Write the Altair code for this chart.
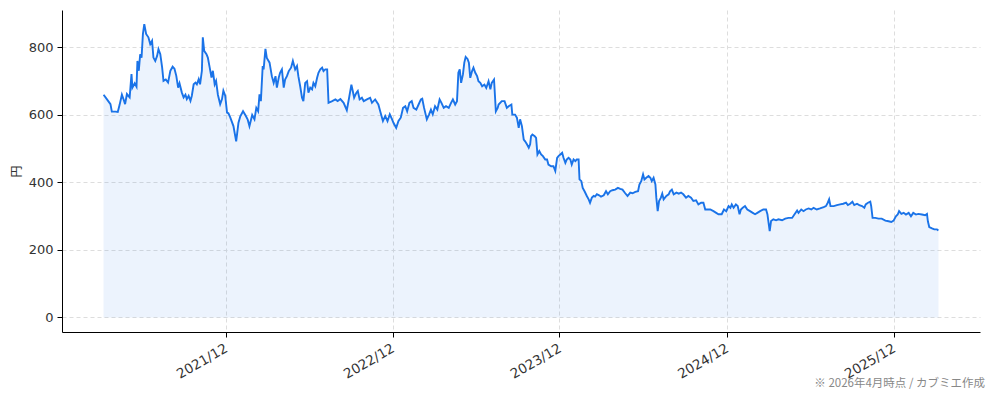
import altair as alt
import pandas as pd

# days since 2021-03-09 and closing price (円)
days = [0,7,15,18,26,31,35,40,44,47,51,57,61,63,68,72,74,77,80,83,86,89,93,98,102,106,109,113,117,120,124,128,131,136,141,146,151,155,159,163,166,171,175,179,182,186,190,193,197,201,204,208,211,215,217,220,225,228,232,236,239,243,246,250,255,259,262,266,270,273,277,
        284,290,295,299,305,310,315,319,325,330,334,338,341,344,348,350,354,357,363,368,372,376,379,383,386,390,394,397,401,405,410,414,419,423,426,430,434,437,441,445,448,452,456,459,463,467,470,474,478,481,485,489,492,500,507,512,518,525,532,537,542,545,548,553,556,560,565,
        569,576,583,587,594,601,605,611,616,621,626,631,634,640,645,650,655,660,664,669,674,678,684,689,694,697,701,707,712,716,720,725,730,735,739,744,749,755,760,764,769,773,776,779,782,786,789,792,796,799,802,806,809,813,817,820,824,828,833,837,842,846,849,854,858,862,
        864,871,877,882,886,892,894,900,904,908,911,915,919,922,926,930,933,935,938,943,946,949,953,957,961,966,970,973,979,984,988,992,995,999,1003,1006,1010,1013,1017,1021,1024,1028,1032,1035,1039,1041,1045,1048,1052,1057,1061,1064,1068,1072,1075,1079,1084,1088,1094,1099,1103,1108,1113,1119,1125,1130,1135,1141,1146,1152,1157,1163,1169,1172,1176,1180,
        1183,1187,1192,1196,1199,1203,1207,1209,1212,1215,1219,1222,1225,1231,1236,1239,1243,1247,1253,1258,1263,1268,1274,1279,1285,1290,1296,1301,1307,1312,1316,1320,1327,1334,1340,1345,1352,1357,1362,1367,1371,1374,1378,1383,1387,1391,1394,1398,1403,1408,1414,1420,1425,1430,1436,1443,1449,1452,1457,1460,1465,1471,1476,1484,1491,
        1498,1506,1511,1517,1520,1526,1531,1536,1542,1548,1553,1560,1567,1575,1580,1584,1587,1590,1597,1604,1611,1618,1624,1628,1633,1638,1642,1648,1653,1659,1664,1667,1672,1677,1679,1682,1688,1695,1702,1710,1717,1723,1728,1733,1737,1740,1745,1750,1755,1761,1766,1771,1777,1782,1790,1797,1801,1803,1806,1812,1817,1823,1826]

prices = [660,647,632,610,610,609,630,660,645,632,662,652,721,681,694,684,760,731,780,770,840,869,840,830,810,820,770,760,775,795,780,741,701,705,696,731,743,737,716,681,694,667,652,660,647,657,642,657,691,696,691,706,691,731,830,790,780,770,741,711,731,691,701,660,632,647,672,657,607,605,593,
          567,522,577,596,611,600,587,567,600,587,621,611,661,641,745,735,796,769,755,715,695,715,681,710,725,735,681,705,715,730,740,760,735,745,715,685,651,641,695,700,666,681,676,695,685,710,725,735,740,730,735,735,636,641,646,641,647,636,614,651,690,671,651,666,671,646,651,
          641,646,651,636,646,631,611,582,597,582,602,587,577,562,582,592,621,626,611,636,641,621,616,631,646,648,621,587,602,616,602,626,616,646,636,621,626,621,636,646,631,641,725,735,695,720,755,772,766,755,710,730,740,725,715,700,695,685,690,680,700,676,695,705,611,621,
          631,641,641,621,626,631,601,601,592,562,587,567,527,522,513,503,513,537,542,537,532,483,493,483,478,468,468,453,448,448,434,473,478,483,488,473,458,468,473,468,453,468,463,468,468,409,404,384,374,360,350,340,355,360,358,365,362,358,362,374,365,374,377,379,384,381,379,368,360,370,368,372,374,394,404,424,
          409,414,419,414,404,414,394,355,315,345,355,367,350,360,365,374,379,365,370,367,370,365,355,360,355,345,347,335,340,340,320,320,320,315,310,306,306,320,315,330,325,335,325,335,330,306,320,325,330,320,315,310,306,310,315,320,320,306,256,286,291,288,291,288,293,
          295,295,305,317,310,320,315,320,323,320,325,320,323,327,330,340,350,330,330,333,335,337,340,333,337,343,333,337,333,330,325,335,340,343,330,295,295,293,293,287,285,283,287,300,305,315,307,310,305,310,300,310,305,307,305,303,307,285,268,264,261,261,258]

start_date = "2021-03-09"
tick_dates = ["2021-12-01", "2022-12-01", "2023-12-01", "2024-12-01", "2025-12-01"]
y_ticks = [0, 200, 400, 600, 800]
note = "※ 2026年4月時点 / カブミエ作成"

df = pd.DataFrame({
    "date": pd.Timestamp(start_date) + pd.to_timedelta(days, unit="D"),
    "price": prices,
})

CJK = "Noto Sans CJK JP"
NUM = "DejaVu Sans"
BLUE = "#1a73e8"
TXT = "#333333"

x_enc = alt.X(
    "date:T",
    scale=alt.Scale(domain=["2020-12-08", "2026-06-08"]),
    axis=alt.Axis(
        values=[pd.Timestamp(d).isoformat() for d in tick_dates],
        format="%Y/%m",
        title=None,
        labelAngle=-30,
        labelAlign="right",
        labelBaseline="top",
        labelPadding=4,
        labelOffset=-3,
        tickSize=5,
        grid=True,
        gridDash=[4, 3],
        gridColor="#dddddd",
        domainColor="#000000",
        tickColor="#000000",
        labelColor=TXT,
        labelFontSize=13.5,
        labelFont=NUM,
    ),
)
y_enc = alt.Y(
    "price:Q",
    scale=alt.Scale(domain=[-43, 911], nice=False, zero=False),
    axis=alt.Axis(
        values=y_ticks,
        title="円",
        titleFont=CJK,
        titleFontSize=12,
        titleFontWeight="normal",
        titleColor=TXT,
        titlePadding=5,
        tickSize=5,
        labelPadding=4,
        grid=True,
        gridDash=[4, 3],
        gridColor="#dddddd",
        domainColor="#000000",
        tickColor="#000000",
        labelColor=TXT,
        labelFontSize=13,
        labelFont=NUM,
    ),
)

base = alt.Chart(df)
area = base.mark_area(color=BLUE, opacity=0.08, stroke=BLUE, strokeOpacity=0.08, strokeWidth=1).encode(
    x=x_enc, y=y_enc, y2=alt.datum(0)
)
line = base.mark_line(color=BLUE, strokeWidth=1.9).encode(x="date:T", y="price:Q")

note_layer = alt.Chart(pd.DataFrame({"t": [note]})).mark_text(
    align="right", baseline="middle", fontSize=11.5, font=CJK, color="#888888"
).encode(text="t:N", x=alt.value(923), y=alt.value(374))

chart = alt.layer(area, line, note_layer).properties(
    width=918,
    height=322,
    background="white",
    padding={"left": 54, "top": 2, "right": 6, "bottom": 60},
    autosize=alt.AutoSizeParams(type="none"),
).configure_view(stroke=None)

chart.save("out.html", embed_options={"renderer": "svg", "actions": False})
